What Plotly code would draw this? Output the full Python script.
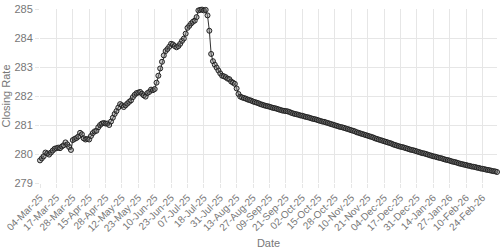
import plotly.graph_objects as go

tick_labels = ["04-Mar-25", "17-Mar-25", "28-Mar-25", "15-Apr-25", "28-Apr-25", "12-May-25",
               "23-May-25", "10-Jun-25", "23-Jun-25", "07-Jul-25", "18-Jul-25", "31-Jul-25",
               "13-Aug-25", "27-Aug-25", "09-Sep-25", "21-Sep-25", "02-Oct-25", "15-Oct-25",
               "28-Oct-25", "10-Nov-25", "21-Nov-25", "04-Dec-25", "17-Dec-25", "31-Dec-25",
               "14-Jan-26", "27-Jan-26", "10-Feb-26", "24-Feb-26"]

history = [279.78, 279.85, 279.92, 280.05, 280.02, 279.98, 280.05, 280.12, 280.18, 280.20,
           280.22, 280.20, 280.26, 280.30, 280.40, 280.33, 280.24, 280.14, 280.48, 280.52,
           280.55, 280.60, 280.73, 280.68, 280.54, 280.50, 280.52, 280.50, 280.62, 280.72,
           280.78, 280.80, 280.92, 281.00, 281.05, 281.07, 281.05, 281.05, 281.00, 281.12,
           281.25, 281.38, 281.48, 281.60, 281.72, 281.68, 281.62, 281.68, 281.74, 281.80,
           281.85, 281.96, 282.04, 282.10, 282.12, 282.14, 282.08, 282.02, 281.98, 282.10,
           282.14, 282.22, 282.20, 282.24, 282.46, 282.70, 282.95, 283.18, 283.40, 283.55,
           283.62, 283.70, 283.80, 283.78, 283.72, 283.68, 283.72, 283.80, 283.90, 283.98,
           284.15, 284.35, 284.42, 284.50, 284.56, 284.60, 284.72, 284.95, 284.97, 284.98,
           284.95, 284.97, 284.78, 284.25, 283.45, 283.20, 283.08, 282.98, 282.88, 282.78,
           282.70, 282.68, 282.65, 282.60, 282.58, 282.50, 282.46, 282.42, 282.26, 282.07]

forecast = [281.98, 281.95, 281.93, 281.91, 281.88, 281.86, 281.84, 281.81, 281.79, 281.77,
            281.75, 281.72, 281.70, 281.68, 281.66, 281.65, 281.63, 281.61, 281.59, 281.58,
            281.56, 281.54, 281.52, 281.50, 281.49, 281.48, 281.47, 281.45, 281.42, 281.40,
            281.38, 281.37, 281.35, 281.33, 281.32, 281.30, 281.28, 281.27, 281.25, 281.23,
            281.21, 281.20, 281.18, 281.16, 281.14, 281.12, 281.11, 281.09, 281.07, 281.05,
            281.03, 281.01, 280.99, 280.97, 280.95, 280.93, 280.92, 280.90, 280.88, 280.86,
            280.84, 280.82, 280.80, 280.78, 280.75, 280.73, 280.71, 280.69, 280.67, 280.65,
            280.63, 280.61, 280.59, 280.57, 280.54, 280.52, 280.50, 280.48, 280.46, 280.44,
            280.42, 280.40, 280.38, 280.36, 280.33, 280.31, 280.29, 280.27, 280.25, 280.24,
            280.22, 280.20, 280.18, 280.16, 280.14, 280.13, 280.11, 280.09, 280.07, 280.05,
            280.03, 280.02, 280.00, 279.98, 279.96, 279.94, 279.92, 279.91, 279.89, 279.87,
            279.86, 279.84, 279.82, 279.80, 279.79, 279.77, 279.75, 279.73, 279.72, 279.70,
            279.68, 279.66, 279.65, 279.63, 279.62, 279.60, 279.59, 279.57, 279.56, 279.55,
            279.53, 279.52, 279.50, 279.49, 279.48, 279.46, 279.45, 279.44, 279.42, 279.41,
            279.40, 279.38]

values = history + forecast
positions = list(range(len(values)))
tick_step = 9
tick_positions = positions[::tick_step][:len(tick_labels)]

grid = "#e6e6e6"
text_col = "#777777"

fig = go.Figure(go.Scatter(
    x=positions, y=values, mode="lines+markers",
    line=dict(color="#333333", width=1),
    marker=dict(symbol="circle", size=5, color="rgba(120,120,120,0.4)",
                line=dict(color="#222222", width=1)),
    cliponaxis=False,
    hoverinfo="skip",
))

fig.update_layout(
    width=500, height=250,
    margin=dict(l=39, r=3, t=7, b=63),
    paper_bgcolor="white", plot_bgcolor="white",
    showlegend=False,
    font=dict(family="Liberation Sans, Arial, sans-serif", size=10, color=text_col),
)
fig.update_xaxes(
    range=[0, len(values) - 1], tickmode="array", tickvals=tick_positions, ticktext=tick_labels,
    tickangle=-45, showgrid=True, gridcolor=grid, gridwidth=1, zeroline=False,
    ticks="outside", ticklen=4, tickcolor=grid, showline=False,
    tickfont=dict(size=10, color=text_col),
    title=dict(text="Date", font=dict(size=11, color=text_col), standoff=6),
)
fig.update_yaxes(
    range=[279, 285], dtick=1, tick0=279, showgrid=True, gridcolor=grid, gridwidth=1,
    zeroline=False, ticks="outside", ticklen=4, tickcolor=grid, showline=False,
    tickfont=dict(size=11, color=text_col),
    title=dict(text="Closing Rate", font=dict(size=11, color=text_col), standoff=4),
)

fig.write_html("out.html")
